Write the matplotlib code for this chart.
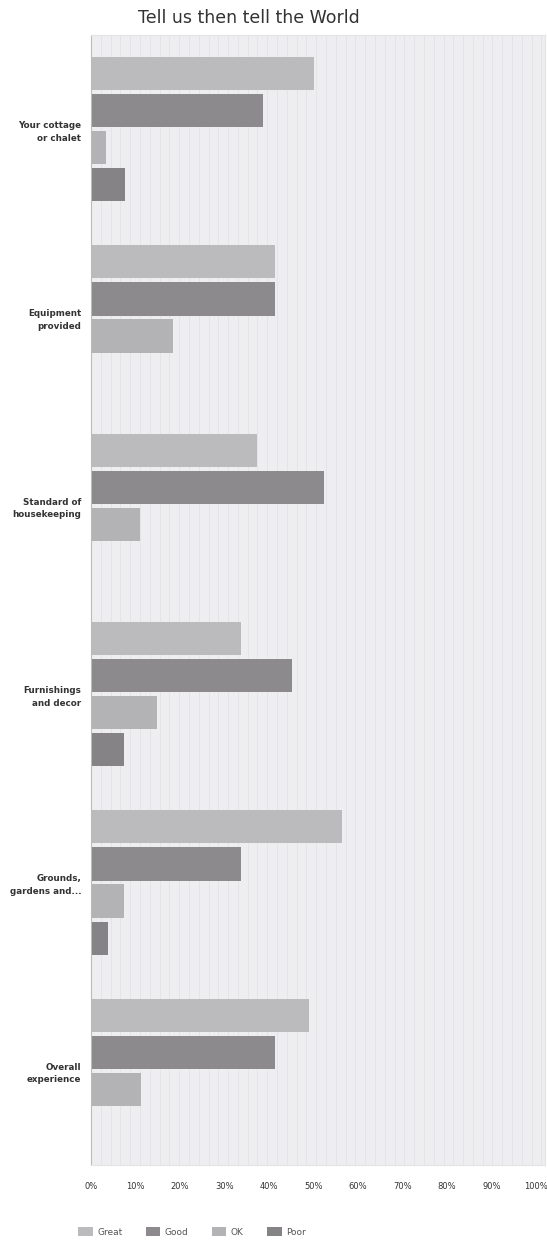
import matplotlib.pyplot as plt
import numpy as np

categories = ['Your cottage\nor chalet', 'Equipment\nprovided', 'Standard of\nhousekeeping',
              'Furnishings\nand decor', 'Grounds,\ngardens and...', 'Overall\nexperience']
series = ['Great', 'Good', 'OK', 'Poor']
great = [50.1, 41.3, 37.3, 33.7, 56.4, 49.0]
good = [38.7, 41.3, 52.4, 45.2, 33.7, 41.3]
ok = [3.4, 18.4, 11.0, 14.8, 7.4, 11.2]
poor = [7.6, 0, 0, 7.4, 3.8, 0]
xticks = [0, 10, 20, 30, 40, 50, 60, 70, 80, 90, 100]

colors = ['#bbbabc', '#8c8a8c', '#b3b2b4', '#858385']

fig = plt.figure(figsize=(5.47, 12.45), dpi=100)
ax = fig.add_axes([91/547, 1 - 1165/1245, 454/547, 1130/1245])
ax.set_facecolor('#eeeef0')

y = np.arange(len(categories))
pitch = 0.197
h = 0.176
for i, (name, vals) in enumerate(zip(series, [great, good, ok, poor])):
    ax.barh(y + (i - 1.5) * pitch, vals, height=h, color=colors[i], label=name)

ax.set_ylim(len(categories) - 0.5, -0.5)
ax.set_xlim(0, 102)
ax.set_xticks(xticks)
ax.set_xticklabels([f'{v}%' for v in xticks], fontsize=6, color='#333333')
ax.set_yticks(y)
ax.set_yticklabels(categories, fontsize=6.3, fontweight='bold', color='#333333', linespacing=1.5)
ax.tick_params(length=0, pad=7)
ax.tick_params(axis='x', pad=12)
ax.set_axisbelow(True)
ax.set_xticks(np.arange(0, 102, 2.2), minor=True)
ax.tick_params(which='minor', length=0)
ax.grid(which='minor', axis='x', color='#e3e3e7', lw=0.6)
for s in ['top', 'right', 'bottom']:
    ax.spines[s].set_color('#e4e4e6')
ax.spines['left'].set_color('#bbbbbb')

fig.text(249/547, 1 - 18/1245, 'Tell us then tell the World', ha='center', va='center',
         fontsize=12.5, color='#333333')

fig.legend(loc='center left', bbox_to_anchor=(70/547, 1 - 1232/1245), ncol=4, frameon=False,
           fontsize=6.5, handlelength=1.6, handleheight=1.2, columnspacing=2.6, handletextpad=0.5,
           labelcolor='#555555')

fig.savefig('out.png', dpi=100)
